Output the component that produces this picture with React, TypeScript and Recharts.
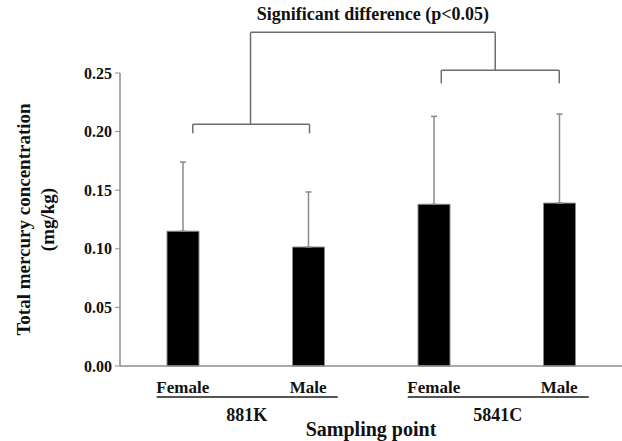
import {Bar, BarChart, ErrorBar, ReferenceLine, XAxis, YAxis} from 'recharts';

const categories = ['Female', 'Male', 'Female', 'Male'];
const sites = ['881K', '5841C'];
const meanHg = [0.115, 0.1015, 0.138, 0.139];
const sdHg = [0.059, 0.047, 0.075, 0.076];
const yTicks = [0, 0.05, 0.1, 0.15, 0.2, 0.25];

// significance brackets, x in band units (0..4), y in mg/kg
const pairBracketX = [[0.58, 1.51], [2.56, 3.5]];
const pairBracketTop = [0.2063, 0.2523];
const pairBracketFoot = [0.1986, 0.2412];
const overBracketX = [1.04, 2.99];
const overBracketTop = 0.2847;

const FONT = '"Liberation Serif", "Times New Roman", serif';
const AXIS_GRAY = '#8c8c8c';
const LINE_GRAY = '#6e6e6e';

const data = categories.map((label, i) => ({
    label,
    pos: i + 0.5,
    site: sites[Math.floor(i / 2)],
    mean: meanHg[i],
    err: [0, sdHg[i]],
}));

function SexTick(props: any) {
    const {x, y, payload, index} = props;
    const first = index % 2 === 0;
    return (
        <g fontFamily={FONT} fontWeight="bold" fill="#111">
            <text x={x} y={y + 27} textAnchor="middle" fontSize={17}>
                {payload.value}
            </text>
            {first && (
                <line x1={x - 26} x2={x + 155} y1={y + 31} y2={y + 31} stroke="#555" strokeWidth={2}/>
            )}
            {first && (
                <text x={x + 64} y={y + 55} textAnchor="middle" fontSize={18}>
                    {sites[index / 2]}
                </text>
            )}
        </g>
    );
}

function YTitle(props: any) {
    const vb = props.viewBox ?? {y: 73, height: 293};
    const cy = vb.y + vb.height / 2;
    return (
        <g fontFamily={FONT} fontWeight="bold" fill="#111" fontSize={19} textAnchor="middle">
            <text transform={`translate(30, ${cy}) rotate(-90)`}>Total mercury concentration</text>
            <text transform={`translate(54, ${cy}) rotate(-90)`}>(mg/kg)</text>
        </g>
    );
}

export default function App() {
    const seg = (pts: [number, number][], key: string, label?: any) => (
        <ReferenceLine
            key={key}
            xAxisId="n"
            segment={pts.map(([x, y]) => ({x, y}))}
            stroke={LINE_GRAY}
            strokeWidth={1.5}
            ifOverflow="visible"
            label={label}
        />
    );

    const lines: any[] = [];
    pairBracketX.forEach(([a, b], i) => {
        lines.push(seg([[a, pairBracketFoot[i]], [a, pairBracketTop[i]]], `pl${i}`));
        lines.push(seg([[a, pairBracketTop[i]], [b, pairBracketTop[i]]], `ph${i}`));
        lines.push(seg([[b, pairBracketTop[i]], [b, pairBracketFoot[i]]], `pr${i}`));
    });
    lines.push(seg([[overBracketX[0], pairBracketTop[0]], [overBracketX[0], overBracketTop]], 'ol'));
    lines.push(
        seg([[overBracketX[0], overBracketTop], [overBracketX[1], overBracketTop]], 'oh', {
            value: 'Significant difference (p<0.05)',
            position: 'top',
            offset: 12,
            fill: '#111',
            fontSize: 18,
            fontWeight: 'bold',
            fontFamily: FONT,
        })
    );
    lines.push(seg([[overBracketX[1], overBracketTop], [overBracketX[1], pairBracketTop[1]]], 'or'));

    return (
        <div style={{width: 622, height: 441, background: '#fff'}}>
            <style>{'body{margin:0}'}</style>
            <BarChart width={622} height={441} data={data} margin={{top: 73, right: 0, bottom: 0, left: 0}}>
                <XAxis
                    dataKey="label"
                    height={75}
                    interval={0}
                    tickLine={false}
                    tickSize={0}
                    tickMargin={0}
                    axisLine={{stroke: AXIS_GRAY, strokeWidth: 1.5}}
                    tick={<SexTick/>}
                    label={{
                        value: 'Sampling point',
                        position: 'insideBottom',
                        offset: 5,
                        fill: '#111',
                        fontSize: 20,
                        fontWeight: 'bold',
                        fontFamily: FONT,
                    }}
                />
                <XAxis
                    xAxisId="n"
                    dataKey="pos"
                    type="number"
                    domain={[0, 4]}
                    ticks={[0, 1, 2, 3, 4]}
                    allowDataOverflow
                    hide
                />
                <YAxis
                    width={120}
                    domain={[0, 0.25]}
                    ticks={yTicks}
                    interval={0}
                    tickFormatter={(v: number) => v.toFixed(2)}
                    tickSize={5}
                    tickMargin={3}
                    axisLine={{stroke: AXIS_GRAY, strokeWidth: 1.5}}
                    tickLine={{stroke: AXIS_GRAY}}
                    tick={{fill: '#111', fontSize: 16, fontWeight: 'bold', fontFamily: FONT}}
                    label={<YTitle/>}
                />
                <Bar dataKey="mean" fill="#000" stroke="#8a8a8a" strokeWidth={1} barSize={32} isAnimationActive={false}>
                    <ErrorBar dataKey="err" direction="y" width={3} stroke="#8a8a8a" strokeWidth={1.5}/>
                </Bar>
                {lines}
            </BarChart>
        </div>
    );
}
